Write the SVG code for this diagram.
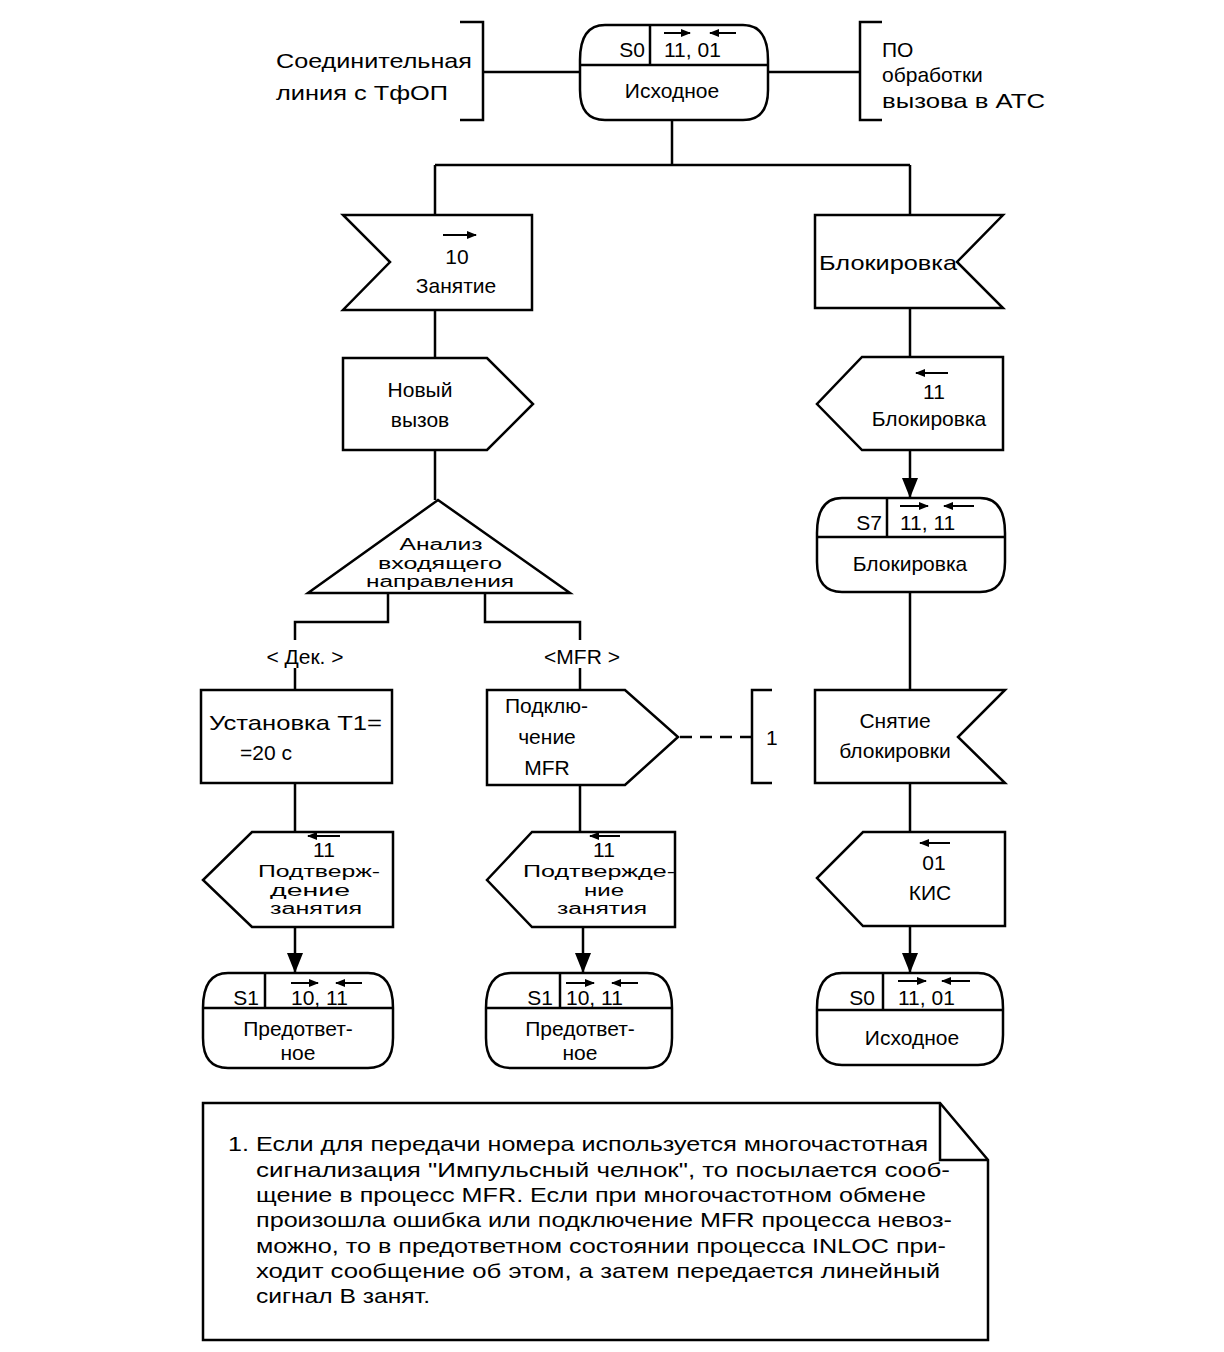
<svg xmlns="http://www.w3.org/2000/svg" width="1224" height="1352" viewBox="0 0 1224 1352">
<style>
.s{fill:#fff;stroke:#000;stroke-width:2.5}
.l{fill:none;stroke:#000;stroke-width:2.5}
.d{fill:none;stroke:#000;stroke-width:2.5;stroke-dasharray:12,8}
.a{fill:none;stroke:#000;stroke-width:2}
text{font-family:"Liberation Sans",Arial,sans-serif;font-size:21px;fill:#000}
.c{text-anchor:middle}
.e{text-anchor:end}
.n{font-size:16px}
</style>
<defs>
<marker id="ah" markerUnits="userSpaceOnUse" markerWidth="10" markerHeight="8" refX="9" refY="4" orient="auto"><path d="M0,0 L10,4 L0,8 Z" fill="#000"/></marker>
<marker id="big" markerUnits="userSpaceOnUse" markerWidth="16" markerHeight="20" refX="8" refY="20" orient="0"><path d="M0,0 L16,0 L8,20 Z" fill="#000"/></marker>
</defs>
<rect width="1224" height="1352" fill="#fff"/>

<g id="connectors">
<path class="l" d="M483,72 H580 M768,72 H860"/>
<path class="l" d="M672,120 V165 M435,165 H910 M435,165 V215 M910,165 V215"/>
<path class="l" d="M435,310 V358 M435,450 V500"/>
<path class="l" d="M388,593 V622 H295 V640 M295,668 V690"/>
<path class="l" d="M485,593 V622 H580 V640 M580,668 V690"/>
<path class="l" d="M295,783 V832 M580,785 V832"/>
<path class="l" d="M910,308 V357"/>
<path class="l" d="M910,592 V690 M910,783 V832"/>
<line class="l" x1="295" y1="927" x2="295" y2="973" marker-end="url(#big)"/>
<line class="l" x1="583" y1="927" x2="583" y2="973" marker-end="url(#big)"/>
<line class="l" x1="910" y1="450" x2="910" y2="498" marker-end="url(#big)"/>
<line class="l" x1="910" y1="926" x2="910" y2="973" marker-end="url(#big)"/>
<line class="d" x1="680" y1="737" x2="752" y2="737"/>
</g>

<g id="bracket-left">
<path class="l" d="M460,22 H483 V120 H460"/>
<text x="276" y="68" textLength="196" lengthAdjust="spacingAndGlyphs">Соединительная</text>
<text x="276" y="100" textLength="172" lengthAdjust="spacingAndGlyphs">линия с ТфОП</text>
</g>

<g id="bracket-right">
<path class="l" d="M882,22 H860 V120 H882"/>
<text x="882" y="57">ПО</text>
<text x="882" y="82">обработки</text>
<text x="882" y="108" textLength="163" lengthAdjust="spacingAndGlyphs">вызова в АТС</text>
</g>

<g id="state-s0-top">
<path class="s" d="M605,25 H743 Q768,25 768,60 V90 Q768,120 743,120 H605 Q580,120 580,90 V60 Q580,25 605,25 Z"/>
<path class="l" d="M580,65 H768 M650,25 V65"/>
<text x="645" y="57" class="e">S0</text>
<text x="664" y="57">11, 01</text>
<line class="a" x1="664" y1="33" x2="690" y2="33" marker-end="url(#ah)"/>
<line class="a" x1="736" y1="33" x2="710" y2="33" marker-end="url(#ah)"/>
<text x="672" y="98" class="c">Исходное</text>
</g>

<g id="in-zanyatie">
<path class="s" d="M343,215 H532 V310 H343 L390,262 Z"/>
<text x="457" y="264" class="c">10</text>
<line class="a" x1="443" y1="235" x2="476" y2="235" marker-end="url(#ah)"/>
<text x="456" y="293" class="c">Занятие</text>
</g>

<g id="out-novyi">
<path class="s" d="M343,358 H487 L533,404 L487,450 H343 Z"/>
<text x="420" y="397" class="c">Новый</text>
<text x="420" y="427" class="c">вызов</text>
</g>

<g id="decision">
<path class="s" d="M438,500 L570,593 H308 Z"/>
<text x="441" y="550" class="c n" textLength="83" lengthAdjust="spacingAndGlyphs">Анализ</text>
<text x="440" y="568.5" class="c n" textLength="124" lengthAdjust="spacingAndGlyphs">входящего</text>
<text x="440" y="587" class="c n" textLength="148" lengthAdjust="spacingAndGlyphs">направления</text>
</g>

<g id="label-dek"><text x="305" y="664" class="c">&lt; Дек. &gt;</text></g>
<g id="label-mfr"><text x="582" y="664" class="c">&lt;MFR &gt;</text></g>

<g id="task-t1">
<rect class="s" x="201" y="690" width="191" height="93"/>
<text x="209" y="730" textLength="173" lengthAdjust="spacingAndGlyphs">Установка Т1=</text>
<text x="240" y="760">=20 с</text>
</g>

<g id="out-mfr">
<path class="s" d="M487,690 H625 L678,737 L625,785 H487 Z"/>
<text x="505" y="713">Подклю-</text>
<text x="547" y="744" class="c">чение</text>
<text x="547" y="775" class="c">MFR</text>
</g>

<g id="comment-1">
<path class="l" d="M772,690 H752 V783 H772"/>
<text x="766" y="745">1</text>
</g>

<g id="out-podtv-left">
<path class="s" d="M252,832 H393 V927 H252 L203,880 Z"/>
<text x="324" y="857" class="c">11</text>
<line class="a" x1="340" y1="836" x2="308" y2="836" marker-end="url(#ah)"/>
<text x="319" y="877" class="c n" textLength="122" lengthAdjust="spacingAndGlyphs">Подтверж-</text>
<text x="310" y="895.5" class="c n" textLength="80" lengthAdjust="spacingAndGlyphs">дение</text>
<text x="316" y="914" class="c n" textLength="92" lengthAdjust="spacingAndGlyphs">занятия</text>
</g>

<g id="state-s1-left">
<path class="s" d="M228,973 H368 Q393,973 393,1008 V1038 Q393,1068 368,1068 H228 Q203,1068 203,1038 V1008 Q203,973 228,973 Z"/>
<path class="l" d="M203,1008 H393 M265,973 V1008"/>
<text x="259" y="1005" class="e">S1</text>
<text x="291" y="1005">10, 11</text>
<line class="a" x1="291" y1="983" x2="318" y2="983" marker-end="url(#ah)"/>
<line class="a" x1="362" y1="983" x2="336" y2="983" marker-end="url(#ah)"/>
<text x="298" y="1036" class="c">Предответ-</text>
<text x="298" y="1060" class="c">ное</text>
</g>

<g id="out-podtv-mid">
<path class="s" d="M532,832 H675 V927 H532 L487,880 Z"/>
<text x="604" y="857" class="c">11</text>
<line class="a" x1="620" y1="836" x2="590" y2="836" marker-end="url(#ah)"/>
<text x="599" y="877" class="c n" textLength="152" lengthAdjust="spacingAndGlyphs">Подтвержде-</text>
<text x="604" y="895.5" class="c n" textLength="40" lengthAdjust="spacingAndGlyphs">ние</text>
<text x="602" y="914" class="c n" textLength="90" lengthAdjust="spacingAndGlyphs">занятия</text>
</g>

<g id="state-s1-mid">
<path class="s" d="M511,973 H647 Q672,973 672,1008 V1038 Q672,1068 647,1068 H511 Q486,1068 486,1038 V1008 Q486,973 511,973 Z"/>
<path class="l" d="M486,1008 H672 M560,973 V1008"/>
<text x="553" y="1005" class="e">S1</text>
<text x="566" y="1005">10, 11</text>
<line class="a" x1="566" y1="983" x2="594" y2="983" marker-end="url(#ah)"/>
<line class="a" x1="638" y1="983" x2="612" y2="983" marker-end="url(#ah)"/>
<text x="580" y="1036" class="c">Предответ-</text>
<text x="580" y="1060" class="c">ное</text>
</g>

<g id="in-blok">
<path class="s" d="M815,215 H1003 L957,262 L1003,308 H815 Z"/>
<text x="819" y="270" textLength="138" lengthAdjust="spacingAndGlyphs">Блокировка</text>
</g>

<g id="out-blok">
<path class="s" d="M862,357 H1003 V450 H862 L817,404 Z"/>
<text x="934" y="399" class="c">11</text>
<line class="a" x1="948" y1="373" x2="916" y2="373" marker-end="url(#ah)"/>
<text x="929" y="426" class="c">Блокировка</text>
</g>

<g id="state-s7">
<path class="s" d="M842,498 H980 Q1005,498 1005,533 V562 Q1005,592 980,592 H842 Q817,592 817,562 V533 Q817,498 842,498 Z"/>
<path class="l" d="M817,537 H1005 M887,498 V537"/>
<text x="882" y="530" class="e">S7</text>
<text x="900" y="530">11, 11</text>
<line class="a" x1="900" y1="506" x2="928" y2="506" marker-end="url(#ah)"/>
<line class="a" x1="974" y1="506" x2="944" y2="506" marker-end="url(#ah)"/>
<text x="910" y="571" class="c">Блокировка</text>
</g>

<g id="in-snyatie">
<path class="s" d="M815,690 H1005 L958,737 L1005,783 H815 Z"/>
<text x="895" y="728" class="c">Снятие</text>
<text x="895" y="758" class="c">блокировки</text>
</g>

<g id="out-kis">
<path class="s" d="M863,832 H1005 V926 H863 L817,878 Z"/>
<text x="934" y="870" class="c">01</text>
<line class="a" x1="950" y1="843" x2="920" y2="843" marker-end="url(#ah)"/>
<text x="930" y="900" class="c">КИС</text>
</g>

<g id="state-s0-bottom">
<path class="s" d="M842,973 H978 Q1003,973 1003,1008 V1035 Q1003,1065 978,1065 H842 Q817,1065 817,1035 V1008 Q817,973 842,973 Z"/>
<path class="l" d="M817,1010 H1003 M883,973 V1010"/>
<text x="875" y="1005" class="e">S0</text>
<text x="898" y="1005">11, 01</text>
<line class="a" x1="898" y1="981" x2="926" y2="981" marker-end="url(#ah)"/>
<line class="a" x1="970" y1="981" x2="942" y2="981" marker-end="url(#ah)"/>
<text x="912" y="1045" class="c">Исходное</text>
</g>

<g id="note">
<path class="s" d="M203,1103 H940 L988,1160 V1340 H203 Z"/>
<path class="l" d="M940,1103 V1160 H988"/>
<text x="228" y="1151" textLength="700" lengthAdjust="spacingAndGlyphs">1. Если для передачи номера используется многочастотная</text>
<text x="256" y="1177" textLength="694" lengthAdjust="spacingAndGlyphs">сигнализация "Импульсный челнок",  то посылается сооб-</text>
<text x="256" y="1202" textLength="670" lengthAdjust="spacingAndGlyphs">щение в процесс MFR. Если при многочастотном обмене</text>
<text x="256" y="1227" textLength="696" lengthAdjust="spacingAndGlyphs">произошла ошибка или подключение MFR процесса невоз-</text>
<text x="256" y="1253" textLength="690" lengthAdjust="spacingAndGlyphs">можно, то в предответном состоянии процесса INLOC при-</text>
<text x="256" y="1278" textLength="684" lengthAdjust="spacingAndGlyphs">ходит сообщение об этом, а затем   передается линейный</text>
<text x="256" y="1303" textLength="174" lengthAdjust="spacingAndGlyphs">сигнал В занят.</text>
</g>
</svg>
